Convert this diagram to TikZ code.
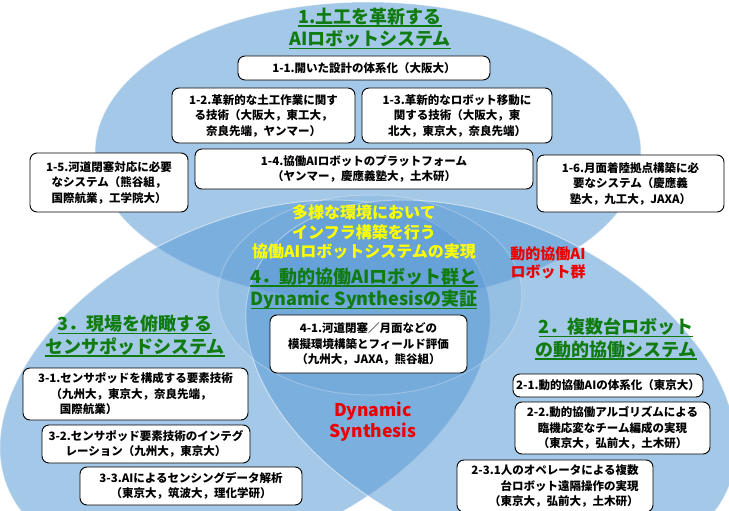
\documentclass[tikz,border=0pt]{standalone}
\usepackage{fontspec}
\setmainfont{Noto Sans CJK JP}
\definecolor{ellc}{RGB}{91,155,213}
\definecolor{ttlc}{RGB}{16,124,16}
\definecolor{yelc}{RGB}{255,255,0}
\definecolor{redc}{RGB}{235,0,0}
\newcommand\myul[1]{\setbox0\hbox{#1}\rlap{\rule[-3.5pt]{\wd0}{1.5pt}}\box0}
\begin{document}
\begin{tikzpicture}[x=1pt,y=-1pt,
  box/.style={draw=black, line width=0.9pt, fill=white, rounded corners=7pt,
    align=center, inner sep=2pt, font=\fontsize{11.5}{15.5}\selectfont\bfseries},
  ttl/.style={text=ttlc, align=center, font=\fontsize{18}{22.5}\selectfont\bfseries},
  venn/.style={fill=ellc, fill opacity=0.55, draw=white, draw opacity=0.5, line width=1pt}]
\useasboundingbox (0,0) rectangle (729,511);
\begin{scope}
\clip (0,0) rectangle (729,511);
\fill[white] (0,0) rectangle (729,511);
\path[venn] (368,152) ellipse [x radius=273, y radius=150];
\path[venn, rotate around={25:(245,382)}] (245,382) ellipse [x radius=260, y radius=160];
\path[venn, rotate around={-25:(491,382)}] (491,382) ellipse [x radius=260, y radius=160];
\path[fill=ellc, fill opacity=0.2, draw=white, draw opacity=0.25, line width=1pt] (370,295) ellipse [x radius=152, y radius=100];
\end{scope}

% titles
\node[ttl] (t1) at (370,28.5) {\myul{1.土工を革新する}\\\myul{AIロボットシステム}};
\node[ttl] (t3) at (135,336) {\myul{3．現場を俯瞰する}\\\myul{センサポッドシステム}};
\node[ttl] (t2) at (616,339) {\myul{2．複数台ロボット}\\\myul{の動的協働システム}};
\node[ttl] (t4) at (364,289) {\myul{4．動的協働AIロボット群と}\\\myul{Dynamic Synthesisの実証}};
\node[text=yelc, align=center, font=\fontsize{16}{19.5}\selectfont\bfseries] (ylw) at (364,232)
  {多様な環境において\\インフラ構築を行う\\協働AIロボットシステムの実現};
\node[text=redc, align=center, font=\fontsize{15}{17.5}\selectfont\bfseries] (red1) at (548,263)
  {動的協働AI\\ロボット群};
\node[text=redc, align=center, font=\fontsize{17.5}{21}\selectfont\bfseries] (red2) at (373,422)
  {Dynamic\\Synthesis};

% boxes
\node[box, minimum width=252, minimum height=24] (b11) at (364,68) {1-1.開いた設計の体系化（大阪大）};
\node[box, minimum width=183, minimum height=55] (b12) at (263.5,115.5)
  {1-2.革新的な土工作業に関す\\る技術（大阪大，東工大，\\奈良先端，ヤンマー）};
\node[box, minimum width=190, minimum height=55] (b13) at (457,115.5)
  {1-3.革新的なロボット移動に\\関する技術（大阪大，東\\北大，東京大，奈良先端）};
\node[box, minimum width=338, minimum height=40] (b14) at (364,169)
  {1-4.協働AIロボットのプラットフォーム\\（ヤンマー，慶應義塾大，土木研）};
\node[box, minimum width=158, minimum height=59] (b15) at (109,182.5)
  {1-5.河道閉塞対応に必要\\なシステム（熊谷組，\\国際航業，工学院大）};
\node[box, minimum width=187, minimum height=57] (b16) at (630.5,183.5)
  {1-6.月面着陸拠点構築に必\\要なシステム（慶應義\\塾大，九工大，JAXA）};
\node[box, minimum width=197, minimum height=58] (b41) at (368.5,344)
  {4-1.河道閉塞／月面などの\\模擬環境構築とフィールド評価\\（九州大，JAXA，熊谷組）};
\node[box, align=left, minimum width=225, minimum height=52] (b31) at (135.5,394)
  {3-1.センサポッドを構成する要素技術\\\hspace*{1.1em}（九州大，東京大，奈良先端，\\\hspace*{1.9em}国際航業）};
\node[box, minimum width=208, minimum height=38] (b32) at (146,444)
  {3-2.センサポッド要素技術のインテグ\\レーション（九州大，東京大）};
\node[box, minimum width=222, minimum height=38] (b33) at (191,486)
  {3-3.AIによるセンシングデータ解析\\（東京大，筑波大，理化学研）};
\node[box, minimum width=190, minimum height=23] (b21) at (608,385.5) {2-1.動的協働AIの体系化（東京大）};
\node[box, minimum width=195, minimum height=52] (b22) at (612.5,428)
  {2-2.動的協働アルゴリズムによる\\臨機応変なチーム編成の実現\\（東京大，弘前大，土木研）};
\node[box, align=right, minimum width=196, minimum height=52] (b231) at (555,486)
  {2-3.1人のオペレータによる複数\\台ロボット遠隔操作の実現\\（東京大，弘前大，土木研）};
\end{tikzpicture}
\end{document}
